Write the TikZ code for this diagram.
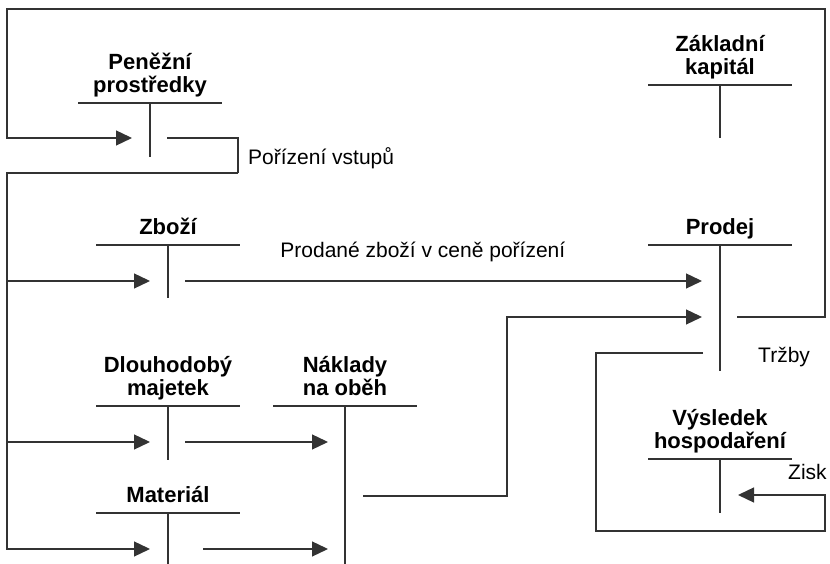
\documentclass[tikz,border=0pt]{standalone}
\usepackage{fontspec}
\setmainfont{Liberation Sans}
\usetikzlibrary{arrows.meta, positioning}

\begin{document}
\begin{tikzpicture}[
    x=1pt, y=1pt,
    line/.style = {draw=black!80, line width=1.3pt},
    arrow/.style = {line, -{Triangle[length=16pt, width=15pt]}},
    title/.style = {font=\fontsize{22}{23}\selectfont\bfseries, align=center, inner sep=0pt, text depth=0pt},
    lbl/.style = {font=\fontsize{21}{23}\selectfont, inner sep=0pt}
  ]

  \useasboundingbox (0,0) rectangle (830,564);

  % tops of the T-accounts
  \coordinate (penize) at (150,461);
  \coordinate (kapital) at (720,479);
  \coordinate (zbozi) at (168,319);
  \coordinate (prodej) at (720,319);
  \coordinate (majetek) at (168,158);
  \coordinate (naklady) at (345,158);
  \coordinate (material) at (168,51);
  \coordinate (vysledek) at (720,105);

  % T-accounts
  \foreach \acc/\len in {penize/54, kapital/53, zbozi/53, prodej/126,
                         majetek/54, naklady/158, material/51, vysledek/54} {
    \draw[line] ([xshift=-72pt]\acc) -- ([xshift=72pt]\acc);
    \draw[line] (\acc) -- ++(0,-\len);
  }

  % account titles
  \node[title, above=10pt of penize] (penizeT) {Peněžní\\prostředky};
  \node[title, above=10pt of kapital] (kapitalT) {Základní\\kapitál};
  \node[title, above=10pt of zbozi] (zboziT) {Zboží};
  \node[title, above=10pt of prodej] (prodejT) {Prodej};
  \node[title, above=10pt of majetek] (majetekT) {Dlouhodobý\\majetek};
  \node[title, above=10pt of naklady] (nakladyT) {Náklady\\na oběh};
  \node[title, above=10pt of material] (materialT) {Materiál};
  \node[title, above=10pt of vysledek] (vysledekT) {Výsledek\\hospodaření};

  % frame corners and turning points
  \coordinate (frameL) at (7,0);
  \coordinate (topL) at (7,555);
  \coordinate (topR) at (825,555);
  \coordinate (buy) at (238,391);
  \coordinate (turn) at (507,68);
  \coordinate (trzbyL) at (596,33);
  \coordinate (trzbyR) at (825,33);

  % arrow tips
  \coordinate (penizeIn) at ([shift={(-18,-35)}]penize);
  \coordinate (zboziIn) at ([shift={(-18,-36)}]zbozi);
  \coordinate (majetekIn) at ([shift={(-18,-36)}]majetek);
  \coordinate (materialIn) at ([shift={(-18,-36)}]material);
  \coordinate (prodejIn) at ([shift={(-18,-36)}]prodej);
  \coordinate (prodejIn2) at ([shift={(-18,-72)}]prodej);
  \coordinate (nakladyIn) at ([shift={(-17,-36)}]naklady);
  \coordinate (nakladyIn2) at ([shift={(-17,-143)}]naklady);
  \coordinate (vysledekIn) at ([shift={(18,-36)}]vysledek);

  % sales back to money
  \draw[arrow] ([shift={(17,-72)}]prodej) -| (topR) -- (topL) |- (penizeIn);

  % purchase of inputs
  \draw[line] ([shift={(17,-35)}]penize) -| (buy);
  \draw[arrow] (buy) -- (frameL |- buy) |- (materialIn);
  \draw[arrow] (frameL |- zboziIn) -- (zboziIn);
  \draw[arrow] (frameL |- majetekIn) -- (majetekIn);
  \node[lbl, anchor=base west] (buyL) at (248,399) {Pořízení vstupů};

  % goods sold
  \draw[arrow] ([shift={(17,-36)}]zbozi) -- (prodejIn)
    node[lbl, pos=0.46, anchor=base, yshift=23pt] (soldL) {Prodané zboží v ceně pořízení};

  % costs
  \draw[arrow] ([shift={(17,-36)}]majetek) -- (nakladyIn);
  \draw[arrow] ([shift={(35,-36)}]material) -- (nakladyIn2);
  \draw[arrow] ([shift={(18,-90)}]naklady) -- (turn) |- (prodejIn2);

  % revenue to result
  \draw[arrow] ([shift={(-17,-108)}]prodej) -| (trzbyL) -- (trzbyR) |- (vysledekIn);
  \node[lbl, anchor=base west] (trzbyT) at (758,201) {Tržby};
  \node[lbl, anchor=base west] (ziskT) at (788,84) {Zisk};

\end{tikzpicture}
\end{document}
